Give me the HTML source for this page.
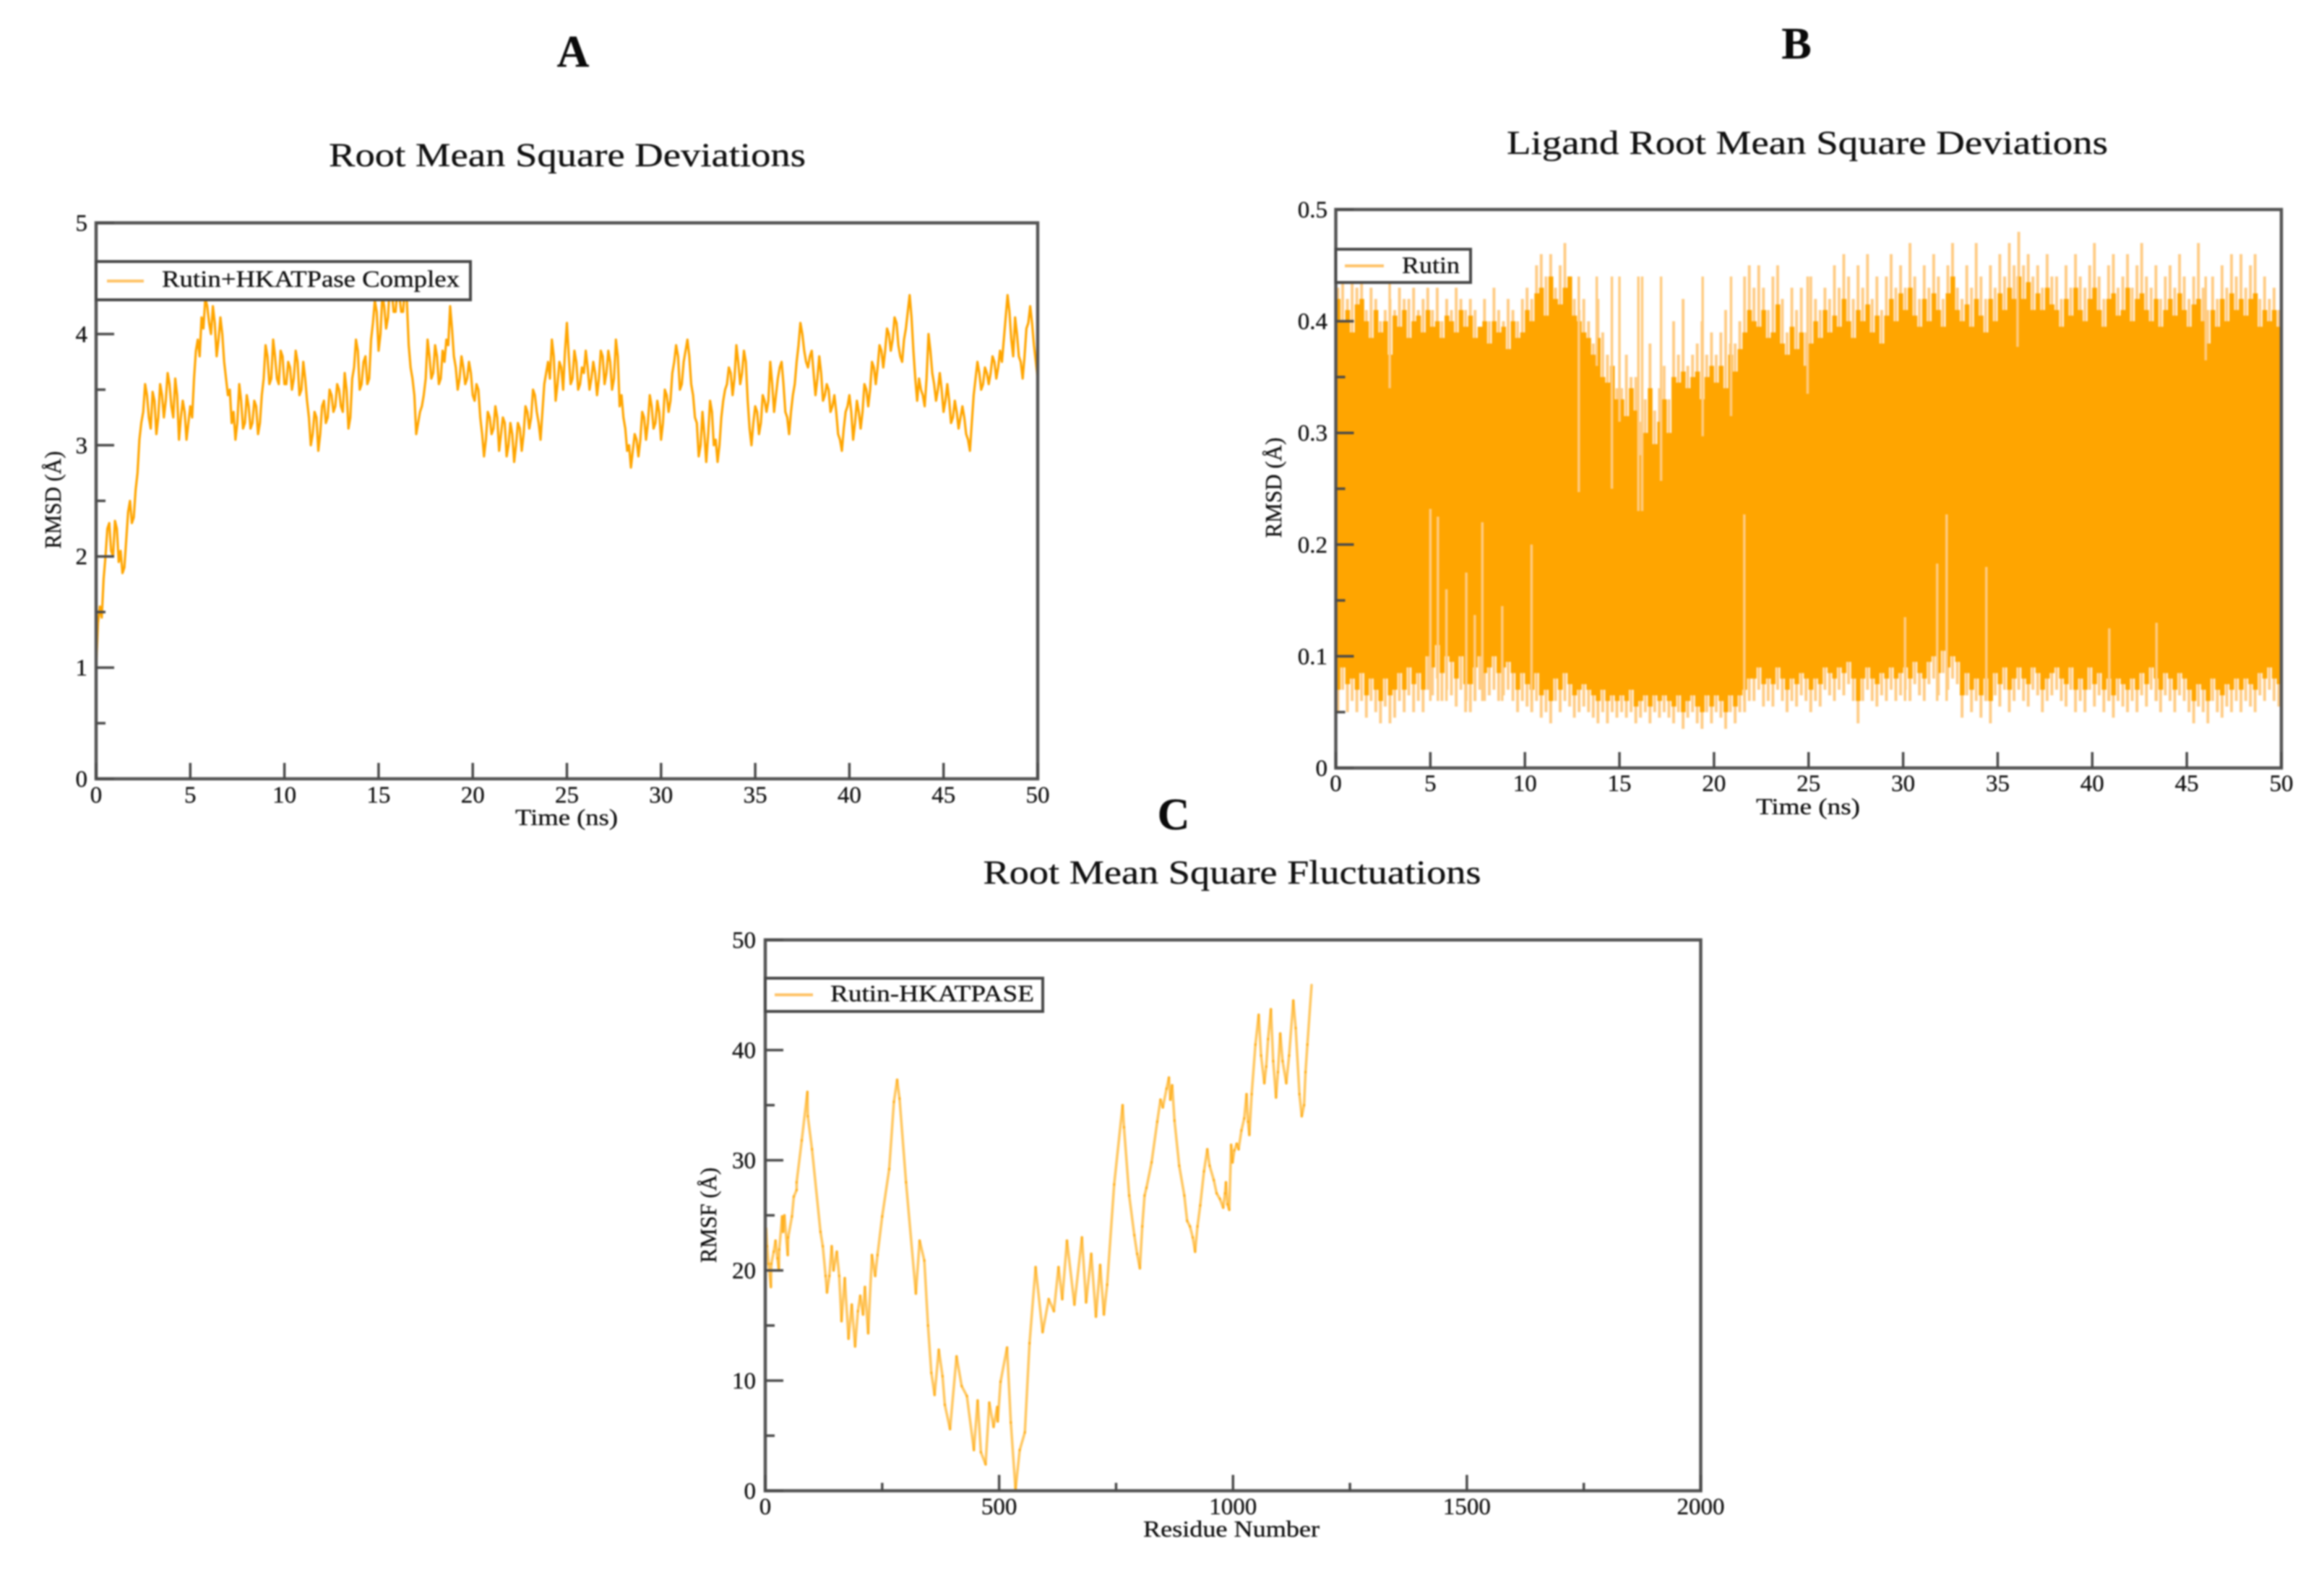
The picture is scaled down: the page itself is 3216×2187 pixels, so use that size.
<!DOCTYPE html>
<html lang="en">
<head>
<meta charset="utf-8">
<title>Rutin HKATPase molecular dynamics charts</title>
<style>
  html, body { margin: 0; padding: 0; background: #fff; }
  #figure { display: block; width: 3216px; height: 2187px; filter: blur(1px); }
  text { font-family: "Liberation Serif", serif; fill: #111; stroke: #111; stroke-width: 0.35px; }
  .frame { fill: none; stroke: #555; stroke-width: 4.5; }
  .legend-box { fill: #fff; stroke: #484848; stroke-width: 4; }
  .legend-line { stroke: #ffc266; stroke-width: 4; }
  .legend-text { font-size: 33px; }
  .title { font-size: 47px; }
  .letter { font-size: 62px; font-weight: bold; fill: #0a0a0a; }
  .axis-title { font-size: 32px; }
  .tick-label { font-size: 33px; }
  .tick { stroke: #4a4a4a; stroke-width: 3.5; }
</style>
</head>
<body>
<svg id="figure" xmlns="http://www.w3.org/2000/svg" width="3216" height="2187" viewBox="0 0 3216 2187">
  <rect width="3216" height="2187" fill="#fff"/>

  <!-- Panel A -->
  <g>
    <text class="letter" x="793" y="92" text-anchor="middle">A</text>
    <text class="title" x="785" y="230" text-anchor="middle" textLength="660" lengthAdjust="spacingAndGlyphs">Root Mean Square Deviations</text>
    <g id="marks-a"></g>
    <rect class="frame" x="133" y="308.5" width="1303" height="769.5"/>
    <g id="axes-a"></g>
    <text class="axis-title" x="784" y="1142" text-anchor="middle" textLength="142" lengthAdjust="spacingAndGlyphs">Time (ns)</text>
    <text class="axis-title" transform="translate(84,692) rotate(-90)" text-anchor="middle" textLength="135" lengthAdjust="spacingAndGlyphs">RMSD (Å)</text>
    <g>
      <rect class="legend-box" x="133" y="362" width="518" height="53"/>
      <line class="legend-line" x1="148" y1="389" x2="199" y2="389"/>
      <text class="legend-text" x="224" y="397" textLength="412" lengthAdjust="spacingAndGlyphs">Rutin+HKATPase Complex</text>
    </g>
  </g>

  <!-- Panel B -->
  <g>
    <text class="letter" x="2486" y="81" text-anchor="middle">B</text>
    <text class="title" x="2501" y="213" text-anchor="middle" textLength="832" lengthAdjust="spacingAndGlyphs">Ligand Root Mean Square Deviations</text>
    <g id="marks-b"></g>
    <rect class="frame" x="1848.5" y="290" width="1308.5" height="773"/>
    <g id="axes-b"></g>
    <text class="axis-title" x="2502" y="1127" text-anchor="middle" textLength="144" lengthAdjust="spacingAndGlyphs">Time (ns)</text>
    <text class="axis-title" transform="translate(1773,675) rotate(-90)" text-anchor="middle" textLength="139" lengthAdjust="spacingAndGlyphs">RMSD (Å)</text>
    <g>
      <rect class="legend-box" x="1848.5" y="345" width="186.5" height="46"/>
      <line class="legend-line" x1="1861" y1="368" x2="1915" y2="368"/>
      <text class="legend-text" x="1940" y="378" textLength="80" lengthAdjust="spacingAndGlyphs">Rutin</text>
    </g>
  </g>

  <!-- Panel C -->
  <g>
    <text class="letter" x="1624" y="1148" text-anchor="middle">C</text>
    <text class="title" x="1705" y="1223" text-anchor="middle" textLength="689" lengthAdjust="spacingAndGlyphs">Root Mean Square Fluctuations</text>
    <g id="marks-c"></g>
    <rect class="frame" x="1059" y="1301" width="1294.5" height="762.5"/>
    <g id="axes-c"></g>
    <text class="axis-title" x="1704" y="2127" text-anchor="middle" textLength="244" lengthAdjust="spacingAndGlyphs">Residue Number</text>
    <text class="axis-title" transform="translate(991,1682) rotate(-90)" text-anchor="middle" textLength="132" lengthAdjust="spacingAndGlyphs">RMSF (Å)</text>
    <g>
      <rect class="legend-box" x="1059" y="1354" width="384" height="46"/>
      <line class="legend-line" x1="1072" y1="1377" x2="1125" y2="1377"/>
      <text class="legend-text" x="1149" y="1386" textLength="282" lengthAdjust="spacingAndGlyphs">Rutin-HKATPASE</text>
    </g>
  </g>
</svg>

<script>
// ---------- Panel A data: RMSD (Å) ----------
const timeTicks = [0,5,10,15,20,25,30,35,40,45,50];
const rmsdTicks = [0,1,2,3,4,5];
const rmsdMinorTicks = [0.5,1.5,2.5,3.5,4.5];
const rmsdStartValue = [1.00];
// samples at 0.2, 0.4, 0.6 ... ns
const rmsdValues = [
  1.55,1.80,2.25,2.05,2.32, 1.95,1.85,2.15,2.50,2.35, 2.75,3.20,3.55,3.25,3.48,
  3.10,3.55,3.25,3.65,3.35, 3.60,3.05,3.40,3.05,3.35, 3.60,3.95,4.15,4.32,4.10,
  4.25,3.80,4.15,3.75,3.45, 3.20,3.05,3.55,3.15,3.45, 3.15,3.40,3.10,3.45,3.90,
  3.55,3.95,3.60,3.85,3.55, 3.75,3.50,3.85,3.45,3.75, 3.40,3.00,3.30,2.95,3.35,
  3.20,3.50,3.30,3.55,3.35, 3.65,3.15,3.60,3.95,3.50, 3.75,3.55,3.95,4.30,3.85,
  4.35,4.05,4.45,4.20,4.40, 4.20,4.42,3.90,3.60,3.10, 3.30,3.45,3.95,3.60,3.90,
  3.55,3.85,3.95,4.25,3.80, 3.50,3.80,3.55,3.75,3.45, 3.55,3.25,2.90,3.30,3.10,
  3.35,2.95,3.25,2.90,3.20, 2.85,3.20,2.95,3.35,3.15, 3.50,3.30,3.05,3.55,3.75,
  3.95,3.40,3.75,3.50,4.10, 3.55,3.85,3.50,3.70,3.85, 3.50,3.75,3.45,3.85,3.55,
  3.85,3.50,3.95,3.35,3.25, 2.95,2.80,3.10,2.90,3.30, 3.05,3.45,3.15,3.40,3.05,
  3.50,3.30,3.65,3.90,3.50, 3.75,3.95,3.55,3.25,2.90, 3.30,2.85,3.40,3.00,2.85,
  3.25,3.50,3.70,3.45,3.90, 3.55,3.85,3.40,3.00,3.35, 3.10,3.45,3.30,3.75,3.30,
  3.60,3.75,3.30,3.10,3.45, 3.75,4.10,3.85,3.70,3.85, 3.45,3.80,3.40,3.55,3.30,
  3.45,3.10,2.95,3.30,3.45, 3.05,3.40,3.15,3.55,3.35, 3.75,3.55,3.90,3.70,4.05,
  3.85,4.15,3.90,3.75,4.05, 4.35,3.85,3.40,3.50,3.35, 4.00,3.65,3.40,3.65,3.30,
  3.55,3.20,3.40,3.15,3.35, 3.10,2.95,3.45,3.75,3.50, 3.70,3.55,3.80,3.60,3.85,
  3.95,4.35,3.95,4.15,3.80, 3.60,4.05,4.25,3.90,3.60
];
// samples at 0.1, 0.3, 0.5 ... ns
const rmsdMidValues = [
  1.40,1.45,2.00,2.30,2.00, 2.25,2.05,1.90,2.40,2.30, 2.60,3.05,3.30,3.45,3.15,
  3.40,3.25,3.45,3.40,3.55, 3.25,3.45,3.25,3.30,3.20, 3.25,3.85,3.80,4.05,4.25,
  4.00,4.10,3.95,4.00,3.60, 3.50,3.30,3.20,3.40,3.20, 3.35,3.20,3.35,3.20,3.60,
  3.80,3.60,3.80,3.55,3.80, 3.55,3.70,3.60,3.75,3.50, 3.60,3.25,3.10,3.25,3.10,
  3.40,3.25,3.45,3.35,3.50, 3.30,3.50,3.25,3.70,3.85, 3.55,3.80,3.60,4.10,4.20,
  4.00,4.25,4.15,4.40,4.20, 4.35,4.20,4.30,3.70,3.45, 3.20,3.35,3.60,3.80,3.65,
  3.80,3.60,3.75,3.90,4.05, 3.70,3.60,3.70,3.60,3.65, 3.40,3.50,3.10,3.05,3.25,
  3.15,3.25,3.10,3.20,3.00, 3.10,3.00,3.15,3.10,3.30, 3.25,3.45,3.20,3.30,3.65,
  3.60,3.80,3.55,3.70,3.85, 3.80,3.60,3.75,3.55,3.65, 3.70,3.60,3.65,3.60,3.80,
  3.65,3.75,3.60,3.80,3.45, 3.15,3.00,2.95,3.05,3.05, 3.25,3.20,3.35,3.20,3.30,
  3.20,3.45,3.40,3.75,3.80, 3.55,3.85,3.80,3.45,3.20, 3.00,3.10,3.10,3.30,3.05,
  3.00,3.40,3.55,3.65,3.60, 3.75,3.65,3.75,3.15,3.20, 3.30,3.20,3.40,3.40,3.55,
  3.45,3.70,3.55,3.25,3.30, 3.55,3.90,4.00,3.75,3.80, 3.65,3.60,3.65,3.45,3.50,
  3.35,3.30,3.05,3.15,3.35, 3.30,3.20,3.30,3.30,3.50, 3.50,3.70,3.70,3.85,3.85,
  4.00,3.95,4.10,3.80,3.95, 4.20,4.15,3.60,3.60,3.45, 3.60,3.85,3.55,3.50,3.50,
  3.40,3.40,3.25,3.30,3.25, 3.25,3.05,3.20,3.60,3.65, 3.55,3.65,3.65,3.75,3.70,
  3.75,4.15,4.20,3.80,4.00, 3.75,3.80,4.10,4.10,3.75
];

// ---------- Panel B data: ligand RMSD (Å), one value every 0.25 ns ----------
const ligandTicks = [0,0.1,0.2,0.3,0.4,0.5];
const ligandMinorTicks = [0.05,0.15,0.25,0.35,0.45];
const ligandBandTop = [
  .42,.40,.41,.39, .415,.42,.40,.385, .41,.39,.40,.37, .405,.395,.41,.385, .40,.405,.39,.41,
  .395,.40,.385,.405, .40,.39,.41,.395, .405,.385,.395,.40, .38,.40,.39,.395, .375,.40,.385,.39,
  .41,.40,.425,.43, .405,.44,.42,.415, .43,.44,.405,.40, .39,.385,.37,.385, .35,.345,.36,.33,
  .33,.315,.34,.32, .28,.30,.34,.29, .31,.33,.30,.35, .345,.355,.34,.35, .355,.33,.35,.36,
  .345,.36,.34,.37, .355,.375,.39,.41, .40,.395,.41,.385, .39,.415,.38,.37, .395,.375,.39,.36,
  .38,.40,.385,.41, .39,.405,.395,.42, .40,.385,.41,.40, .415,.39,.405,.38, .405,.42,.40,.425,
  .41,.43,.405,.395, .42,.40,.425,.41, .395,.425,.44,.41, .40,.415,.395,.42, .405,.39,.42,.40,
  .425,.41,.43,.42, .44,.42,.435,.41, .425,.41,.43,.415, .41,.395,.42,.405, .43,.41,.40,.42,
  .43,.41,.395,.42, .425,.405,.41,.43, .40,.42,.425,.41, .40,.42,.395,.41, .42,.405,.425,.41,
  .395,.415,.42,.40, .38,.41,.395,.42, .40,.425,.41,.42, .405,.42,.425,.395, .41,.40,.41,.395, .39
];
const ligandBandBottom = [
  .07,.09,.075,.08, .07,.085,.065,.08, .07,.06,.08,.065, .07,.085,.07,.09, .075,.085,.07,.10,
  .09,.11,.085,.10, .095,.08,.10,.075, .075,.09,.10,.085, .09,.10,.085,.09, .095,.085,.07,.085,
  .075,.07,.085,.065, .07,.06,.08,.07, .085,.075,.065,.07, .075,.07,.065,.06, .07,.06,.065,.06,
  .065,.06,.07,.055, .06,.065,.055,.065, .06,.065,.06,.055, .065,.05,.06,.065, .055,.05,.065,.055,
  .065,.06,.05,.065, .055,.065,.07,.08, .08,.09,.075,.08, .075,.09,.08,.07, .08,.075,.085,.08,
  .07,.08,.075,.09, .085,.08,.09,.085, .095,.08,.06,.08, .09,.08,.075,.085, .08,.09,.08,.085,
  .09,.08,.095,.085, .08,.095,.10,.085, .105,.09,.10,.095, .065,.085,.07,.08, .065,.08,.06,.085,
  .075,.09,.07,.08, .09,.08,.075,.09, .085,.07,.08,.085, .09,.08,.075,.09, .07,.08,.07,.09,
  .075,.085,.07,.08, .065,.08,.075,.07, .08,.07,.085,.075, .09,.08,.07,.085, .08,.07,.085,.08,
  .07,.06,.075,.07, .06,.08,.07,.065, .075,.07,.08,.07, .08,.075,.07,.085, .08,.09,.08,.075, .08
];
const ligandPeaks = [
  .43,.44,.42,.44, .43,.44,.41,.43, .42,.40,.41,.42, .41,.43,.42,.42, .43,.41,.42,.43,
  .41,.43,.40,.42, .41,.43,.42,.41, .42,.41,.39,.42, .40,.43,.41,.40, .42,.41,.40,.42,
  .43,.42,.45,.46, .44,.46,.43,.45, .47,.44,.42,.41, .42,.40,.38,.42, .39,.37,.36,.34,
  .34,.37,.35,.35, .31,.33,.38,.32, .34,.36,.33,.40, .37,.42,.36,.37, .38,.40,.37,.39,
  .37,.39,.41,.38, .38,.40,.44,.45, .43,.45,.43,.41, .44,.45,.42,.39, .43,.41,.43,.39,
  .44,.42,.41,.43, .42,.45,.43,.46, .44,.42,.45,.43, .46,.42,.44,.41, .44,.46,.43,.45,
  .43,.47,.44,.42, .45,.43,.46,.44, .42,.45,.47,.43, .42,.45,.43,.47, .44,.42,.45,.43,
  .46,.44,.47,.45, .48,.45,.46,.44, .45,.43,.46,.44, .44,.42,.45,.43, .46,.44,.43,.45,
  .47,.44,.42,.45, .46,.43,.44,.46, .43,.45,.47,.44, .43,.45,.42,.44, .45,.43,.46,.44,
  .42,.44,.47,.43, .41,.44,.42,.45, .43,.46,.44,.46, .43,.45,.46,.42, .44,.42,.43,.41, .40
];
const ligandTroughs = [
  .05,.07,.05,.06, .05,.06,.045,.06, .05,.04,.055,.04, .045,.06,.05,.065, .05,.06,.05,.07,
  .065,.08,.06,.07, .065,.055,.07,.05, .05,.06,.07,.06, .065,.07,.06,.065, .07,.06,.05,.06,
  .055,.05,.06,.045, .05,.04,.06,.05, .06,.055,.045,.05, .055,.05,.045,.04, .05,.04,.05,.045,
  .05,.045,.05,.04, .045,.05,.04,.05, .045,.05,.045,.04, .05,.035,.045,.05, .04,.035,.05,.04,
  .05,.045,.035,.05, .04,.05,.05,.06, .06,.07,.055,.06, .055,.07,.06,.05, .06,.055,.065,.06,
  .05,.06,.055,.07, .065,.06,.07,.065, .075,.06,.04,.06, .07,.06,.055,.065, .06,.07,.06,.065,
  .07,.06,.075,.065, .06,.075,.08,.065, .085,.07,.08,.075, .045,.065,.05,.06, .045,.06,.04,.065,
  .055,.07,.05,.06, .07,.06,.055,.07, .065,.05,.06,.065, .07,.06,.055,.07, .05,.06,.05,.07,
  .055,.065,.05,.06, .045,.06,.055,.05, .06,.05,.065,.055, .07,.06,.05,.065, .06,.05,.065,.06,
  .05,.04,.055,.05, .04,.06,.05,.045, .055,.05,.06,.05, .06,.055,.05,.065, .06,.07,.06,.055, .06
];
// isolated deep excursions
const ligandDipTimes = [2.85,12.85,13.8,14.6,15,16,16.2,17.2,19.4,20.9,24.95,36.05,46];
const ligandDipValues = [.34,.247,.36,.25,.31,.23,.23,.257,.297,.315,.335,.377,.365];
const ligandRiseTimes = [5,5.4,5.85,6.9,7.35,7.75,8.8,10.35,21.6,30.1,31.8,32.3,34.4,40.9,43.4];
const ligandRiseValues = [.232,.225,.16,.175,.137,.22,.145,.20,.227,.135,.183,.227,.18,.125,.13];

// ---------- Panel C data: RMSF per residue ----------
const residueTicks = [0,500,1000,1500,2000];
const residueMinorTicks = [250,750,1250,1750];
const rmsfTicks = [0,10,20,30,40,50];
const rmsfMinorTicks = [5,15,25,35,45];
const residueNumbers = [2,4,7,12,13,18,22,26,29,30,36,38,41,48,49,57,61,67,67,78,90,91,100,118,123,129,132,137,142,146,153,158,163,170,178,185,192,198,203,209,213,220,228,235,240,250,265,275,282,287,301,322,330,340,348,355,362,371,379,384,395,409,420,431,446,454,461,471,479,488,496,497,503,517,525,535,544,555,565,578,593,606,617,627,635,645,661,677,686,697,707,716,724,731,746,764,767,778,789,795,801,806,811,815,826,838,845,850,858,863,866,870,875,885,896,902,908,914,919,924,930,938,945,950,959,965,972,979,983,985,988,992,996,999,1003,1008,1012,1018,1024,1029,1032,1035,1040,1048,1055,1060,1067,1071,1075,1081,1086,1092,1096,1101,1106,1114,1120,1129,1134,1142,1147,1152,1155,1159,1168];
const rmsfValues = [23.8,22.2,20.6,18.5,20.6,21.7,22.7,21.1,20,21.9,24.9,23.5,25,21.4,23,24.9,26.7,27.3,28,31.8,36.2,34,31,23.5,22.2,19.5,18,19.5,22.2,20,21.7,19.5,15.4,19.3,13.8,16.9,13.1,16.3,17.7,16,18.5,14.3,21.4,19.5,21.4,24.9,29.2,35.3,37.3,35.6,28,17.9,22.7,20.9,15,10.7,8.7,12.8,10.4,7.8,5.6,12.2,9.5,8.6,3.7,8.2,3.5,2.4,8,5.8,7.6,6.3,9.9,13,6.2,0.1,3.7,5.3,13.4,20.3,14.4,17.4,16.3,20.3,17.4,22.7,16.9,23,17.1,21.5,15.8,20.5,16,18.7,27.8,35,33,26.8,23.2,21.5,20.2,24,26.8,27.5,29.8,33.5,35.5,34.8,36.5,37.5,35.5,36.8,33.6,29.5,26.8,24.5,24,23,21.7,24,25.9,29,31,29.5,28.2,27,26.5,25.7,27,28,26,25.5,31.4,29.8,30.9,31.5,31,32.7,33.8,36,33.5,32.3,36,40.5,43.2,39.5,37,38.5,41,43.7,39,35.7,38,41.5,39,37,39.5,44.5,42,36,34,35,38,40.5,45.9];

// ---------- Helpers ----------
const SVG_NS = 'http://www.w3.org/2000/svg';
function make(tag, attrs, parent) {
  const node = document.createElementNS(SVG_NS, tag);
  for (const key in attrs) node.setAttribute(key, attrs[key]);
  parent.appendChild(node);
  return node;
}
function linearScale(domainMax, start, end) {
  return function (v) { return start + (v / domainMax) * (end - start); };
}

function drawAxes(group, sx, sy, box, xTicks, xMinor, yTicks, yMinor, xLabelY, yLabelX, majorX, minorX, majorY, minorY) {
  xTicks.forEach(function (v) {
    const t = make('line', { class: 'tick', x1: sx(v), x2: sx(v), y1: box.bottom, y2: box.bottom - majorX }, group);
    
    
    const l = make('text', { class: 'tick-label', x: sx(v), y: xLabelY, 'text-anchor': 'middle' }, group);
    
    
    l.textContent = v;
  });
  xMinor.forEach(function (v) {
    const t = make('line', { class: 'tick', x1: sx(v), x2: sx(v), y1: box.bottom, y2: box.bottom - minorX }, group);
    
    
  });
  yTicks.forEach(function (v) {
    const t = make('line', { class: 'tick', x1: box.left, x2: box.left + majorY, y1: sy(v), y2: sy(v) }, group);
    
    
    const l = make('text', { class: 'tick-label', x: yLabelX, y: sy(v) + 11, 'text-anchor': 'end' }, group);
    
    
    l.textContent = v;
  });
  yMinor.forEach(function (v) {
    const t = make('line', { class: 'tick', x1: box.left, x2: box.left + minorY, y1: sy(v), y2: sy(v) }, group);
    
    
  });
}

// ---------- Panel A ----------
(function () {
  const box = { left: 133, right: 1436, top: 308.5, bottom: 1078 };
  const sx = linearScale(50, box.left, box.right);
  const sy = function (v) { return box.bottom - (v / 5) * (box.bottom - box.top); };
  const pts = [sx(0).toFixed(1) + ',' + sy(rmsdStartValue[0]).toFixed(1)];
  rmsdValues.forEach(function (v, i) {
    pts.push(sx(i * 0.2 + 0.1).toFixed(1) + ',' + sy(rmsdMidValues[i]).toFixed(1));
    pts.push(sx((i + 1) * 0.2).toFixed(1) + ',' + sy(v).toFixed(1));
  });
  const line = make('polyline', { points: pts.join(' '), fill: 'none', stroke: '#ffa500', 'stroke-width': 3.2, 'stroke-linejoin': 'round' }, document.getElementById('marks-a'));
  
  
  drawAxes(document.getElementById('axes-a'), sx, sy, box, timeTicks, [], rmsdTicks, rmsdMinorTicks, 1111, 121, 22, 0, 25, 13);
})();

// ---------- Panel B ----------
(function () {
  const box = { left: 1848.5, right: 3157, top: 290, bottom: 1063 };
  const sx = linearScale(50, box.left, box.right);
  const sy = function (v) { return box.bottom - (v / 0.5) * (box.bottom - box.top); };
  const marks = document.getElementById('marks-b');
  const step = 0.25;

  let d = '';
  ligandPeaks.forEach(function (v, i) {
    const x = Math.min(sx(i * step) + 3, box.right).toFixed(1);
    d += 'M' + x + ' ' + sy(v).toFixed(1) + 'L' + x + ' ' + sy(ligandTroughs[i]).toFixed(1);
  });
  const osc = make('path', { d: d, fill: 'none', stroke: '#ffcc85', 'stroke-width': 4 }, marks);
  
  

  const bandPts = [];
  ligandBandTop.forEach(function (v, i) {
    const y = sy(v).toFixed(1);
    bandPts.push(sx(i * step).toFixed(1) + ',' + y);
    bandPts.push(sx(Math.min(50, (i + 1) * step)).toFixed(1) + ',' + y);
  });
  for (let i = ligandBandBottom.length - 1; i >= 0; i--) {
    const y = sy(ligandBandBottom[i]).toFixed(1);
    bandPts.push(sx(Math.min(50, (i + 1) * step)).toFixed(1) + ',' + y);
    bandPts.push(sx(i * step).toFixed(1) + ',' + y);
  }
  const band = make('polygon', { points: bandPts.join(' '), fill: '#ffa500' }, marks);
  
  

  ligandDipTimes.forEach(function (t, i) {
    const s = make('line', { x1: sx(t), x2: sx(t), y1: sy(.44), y2: sy(ligandDipValues[i]), stroke: '#ffcb80', 'stroke-width': 3.5 }, marks);
    
    
  });
  ligandRiseTimes.forEach(function (t, i) {
    const s = make('line', { x1: sx(t), x2: sx(t), y1: sy(.06), y2: sy(ligandRiseValues[i]), stroke: '#ffcb80', 'stroke-width': 3.5 }, marks);
    
    
  });
  drawAxes(document.getElementById('axes-b'), sx, sy, box, timeTicks, [], ligandTicks, ligandMinorTicks, 1095, 1837, 22, 0, 25, 13);
})();

// ---------- Panel C ----------
(function () {
  const box = { left: 1059, right: 2353.5, top: 1301, bottom: 2063.5 };
  const sx = linearScale(2000, box.left, box.right);
  const sy = function (v) { return box.bottom - (v / 50) * (box.bottom - box.top); };
  const marks = document.getElementById('marks-c');
  rmsfValues.forEach(function (v, i) {
    if (i === 0) return;
    const seg = make('line', {
      x1: sx(residueNumbers[i - 1]).toFixed(1), y1: sy(rmsfValues[i - 1]).toFixed(1),
      x2: sx(residueNumbers[i]).toFixed(1), y2: sy(v).toFixed(1),
      stroke: '#ffa500', 'stroke-opacity': 0.62, 'stroke-width': 3.6, 'stroke-linecap': 'round'
    }, marks);
    
    
  });
  drawAxes(document.getElementById('axes-c'), sx, sy, box, residueTicks, residueMinorTicks, rmsfTicks, rmsfMinorTicks, 2096, 1046, 22, 11, 25, 13);
})();
</script>
</body>
</html>
